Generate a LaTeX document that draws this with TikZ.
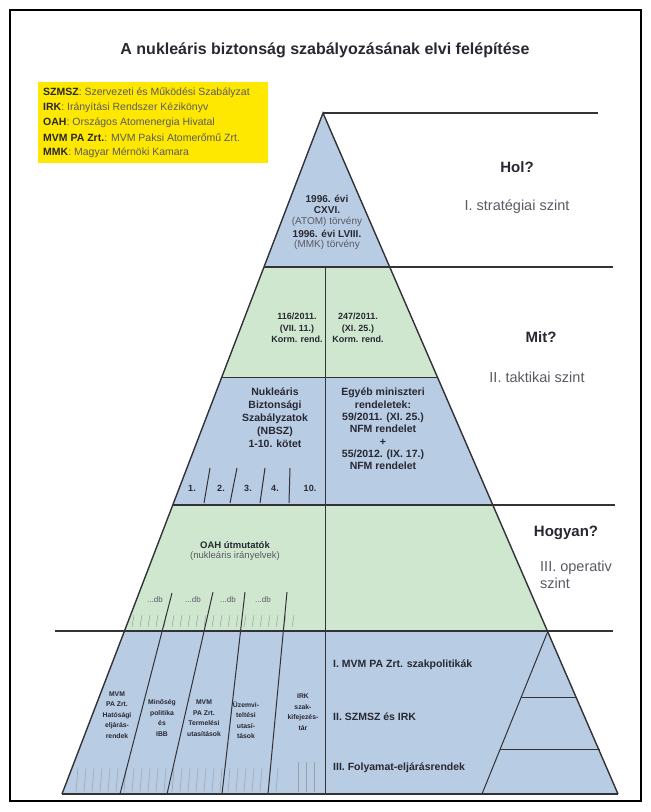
\documentclass[tikz,border=0pt]{standalone}
\usepackage{fontspec}
\setmainfont{Liberation Sans}
\usepackage{tikz}
\usetikzlibrary{positioning,calc}

\definecolor{pyrblue}{RGB}{184,204,228}
\definecolor{pyrgreen}{RGB}{207,231,206}
\definecolor{legyellow}{RGB}{255,232,0}
\definecolor{txtdark}{RGB}{40,40,50}
\definecolor{txtgray}{RGB}{90,90,100}
\definecolor{linegray}{RGB}{50,50,55}
\definecolor{tickgray}{RGB}{155,160,165}

\tikzset{
  edge/.style={draw=linegray, line width=1.4pt},
  divider/.style={draw=linegray, line width=1pt},
  tick/.style={draw=tickgray, line width=0.5pt},
  cell/.style={font=\fontsize{9}{11.5}\selectfont\bfseries, text=txtdark, align=center, inner sep=0pt},
  bigcell/.style={font=\fontsize{10.5}{13}\selectfont\bfseries, text=txtdark, align=center, inner sep=0pt},
  note/.style={font=\fontsize{9.5}{11}\selectfont, text=txtgray, align=center, inner sep=0pt},
  column/.style={font=\fontsize{6.8}{10.5}\selectfont\bfseries, text=txtdark, align=center, inner sep=0pt},
  policy/.style={font=\fontsize{10.5}{12}\selectfont\bfseries, text=txtdark, anchor=west, inner sep=0pt},
  question/.style={font=\fontsize{15}{17}\selectfont\bfseries, text=txtdark, inner sep=0pt},
  levelname/.style={font=\fontsize{14.5}{17}\selectfont, text=txtgray, inner sep=0pt},
  legline/.style={font=\fontsize{10.5}{12}\selectfont, text=txtgray, anchor=west, inner sep=0pt}
}

\begin{document}
\begin{tikzpicture}[x=1pt,y=-1pt]
\useasboundingbox (0,0) rectangle (651,812);
\draw[black, line width=2.5pt] (10,10) rectangle (641,801);

\node[font=\fontsize{16}{18}\selectfont\bfseries, text=txtdark] (title) at (325,50)
  {A nukleáris biztonság szabályozásának elvi felépítése};

% legend
\fill[legyellow] (38,82) rectangle (268,163);
\node[legline] (leg1) at (43,93)  {\textbf{\color{txtdark}SZMSZ}: Szervezeti és Működési Szabályzat};
\node[legline] (leg2) at (43,108) {\textbf{\color{txtdark}IRK}: Irányítási Rendszer Kézikönyv};
\node[legline] (leg3) at (43,123) {\textbf{\color{txtdark}OAH}: Országos Atomenergia Hivatal};
\node[legline] (leg4) at (43,138) {\textbf{\color{txtdark}MVM PA Zrt.}: MVM Paksi Atomerőmű Zrt.};
\node[legline] (leg5) at (43,153) {\textbf{\color{txtdark}MMK}: Magyar Mérnöki Kamara};

% corners of the pyramid
\coordinate (apex) at (323,113);
\coordinate (bl) at (62,794);
\coordinate (br) at (618,794);

% tiers
\fill[pyrblue]  (apex) -- (390,267) -- (264,267) -- cycle;
\fill[pyrgreen] (264,267) -- (390,267) -- (438,377) -- (222,377) -- cycle;
\fill[pyrblue]  (222,377) -- (438,377) -- (493,505) -- (173,505) -- cycle;
\fill[pyrgreen] (173,505) -- (493,505) -- (548,631) -- (124.5,631) -- cycle;
\fill[pyrblue]  (124.5,631) -- (548,631) -- (br) -- (bl) -- cycle;

% hatching of the document piles
\foreach \x in {132,140,...,292} \draw[tick] (\x,627) -- ++(2,-12);
\foreach \x in {76,84,...,276} \draw[tick] (\x,792) -- ++(2,-24);
\foreach \x in {298,306,314} \draw[tick] (\x,792) -- ++(0,-30);

% level lines
\draw[edge] (apex) -- (598,113);
\draw[edge] (264,267) -- (613,267);
\draw[divider] (222,377) -- (438,377);
\draw[edge] (173,505) -- (615,505);
\draw[edge] (55,631) -- (613,631);
\draw[edge] (bl) -- (br);
\draw[edge] (bl) -- (apex) -- (br);
\draw[divider] (325,267) -- (325,794);

% NBSZ volumes
\draw[divider] (204,503) -- (210,468);
\draw[divider] (230,503) -- (237,468);
\draw[divider] (260,503) -- (265,468);
\draw[divider] (289,503) -- (290,468);

% columns of the operative level
\draw[divider] (172,593) -- (120,794);
\draw[divider] (213,592) -- (167,794);
\draw[divider] (245,592) -- (222,794);
\draw[divider] (287,592) -- (268,794);

% inner pyramid
\draw[divider] (548,631) -- (482,794);
\draw[divider] (521,697) -- (577,697);
\draw[divider] (500,749) -- (600,749);

% texts in the pyramid
\node[bigcell, font=\fontsize{10}{11.5}\selectfont\bfseries] (atom) at (327,204.5) {1996. évi\\CXVI.};
\node[note, font=\fontsize{10}{11.5}\selectfont] (atomlaw) at (327,222) {(ATOM) törvény};
\node[bigcell, font=\fontsize{10}{11.5}\selectfont\bfseries] (mmk) at (327,233.5) {1996. évi LVIII.};
\node[note, font=\fontsize{10}{11.5}\selectfont] (mmklaw) at (327,245) {(MMK) törvény};

\node[cell] (korm1) at (297,328) {116/2011.\\(VII. 11.)\\Korm. rend.};
\node[cell] (korm2) at (358,328) {247/2011.\\(XI. 25.)\\Korm. rend.};

\node[bigcell] (nbsz) at (275,418)
  {Nukleáris\\Biztonsági\\Szabályzatok\\(NBSZ)\\1-10. kötet};
\node[bigcell, font=\fontsize{10.5}{12.3}\selectfont\bfseries] (nfm) at (383,429)
  {Egyéb miniszteri\\rendeletek:\\59/2011. (XI. 25.)\\NFM rendelet\\+\\55/2012. (IX. 17.)\\NFM rendelet};

\node[cell] (vol1) at (192,488) {1.};
\node[cell] (vol2) at (221,488) {2.};
\node[cell] (vol3) at (248,488) {3.};
\node[cell] (vol4) at (275,488) {4.};
\node[cell] (vol10) at (310,488) {10.};

\node[cell, font=\fontsize{9.5}{11}\selectfont\bfseries] (oah) at (235,545) {OAH útmutatók};
\node[note, below=3pt of oah] (oahnote) {(nukleáris irányelvek)};

\foreach \x/\n in {155/1,193/2,228/3,263/4}
  \node[note, font=\fontsize{8}{9}\selectfont] (db\n) at (\x,600) {...db};

\node[column] (col1) at (117,715) {MVM\\PA Zrt.\\Hatósági\\eljárás-\\rendek};
\node[column] (col2) at (162,718) {Minőség\\politika\\és\\IBB};
\node[column] (col3) at (204,718) {MVM\\PA Zrt.\\Termelési\\utasítások};
\node[column] (col4) at (246,720) {Üzemvi-\\teltési\\utasí-\\tások};
\node[column] (col5) at (303,712) {IRK\\szak-\\kifejezés-\\tár};

\node[policy] (pol1) at (333,665) {I. MVM PA Zrt. szakpolitikák};
\node[policy] (pol2) at (333,717) {II. SZMSZ és IRK};
\node[policy] (pol3) at (333,768) {III. Folyamat-eljárásrendek};

% levels
\node[question] (hol) at (517,167) {Hol?};
\node[levelname] (lev1) at (517,207) {I. stratégiai szint};
\node[question] (mit) at (541,337) {Mit?};
\node[levelname] (lev2) at (537,377) {II. taktikai szint};
\node[question] (hogyan) at (566,533) {Hogyan?};
\node[levelname, anchor=north west, align=left] (lev3) at (540,561) {III. operativ\\szint};
\end{tikzpicture}
\end{document}
